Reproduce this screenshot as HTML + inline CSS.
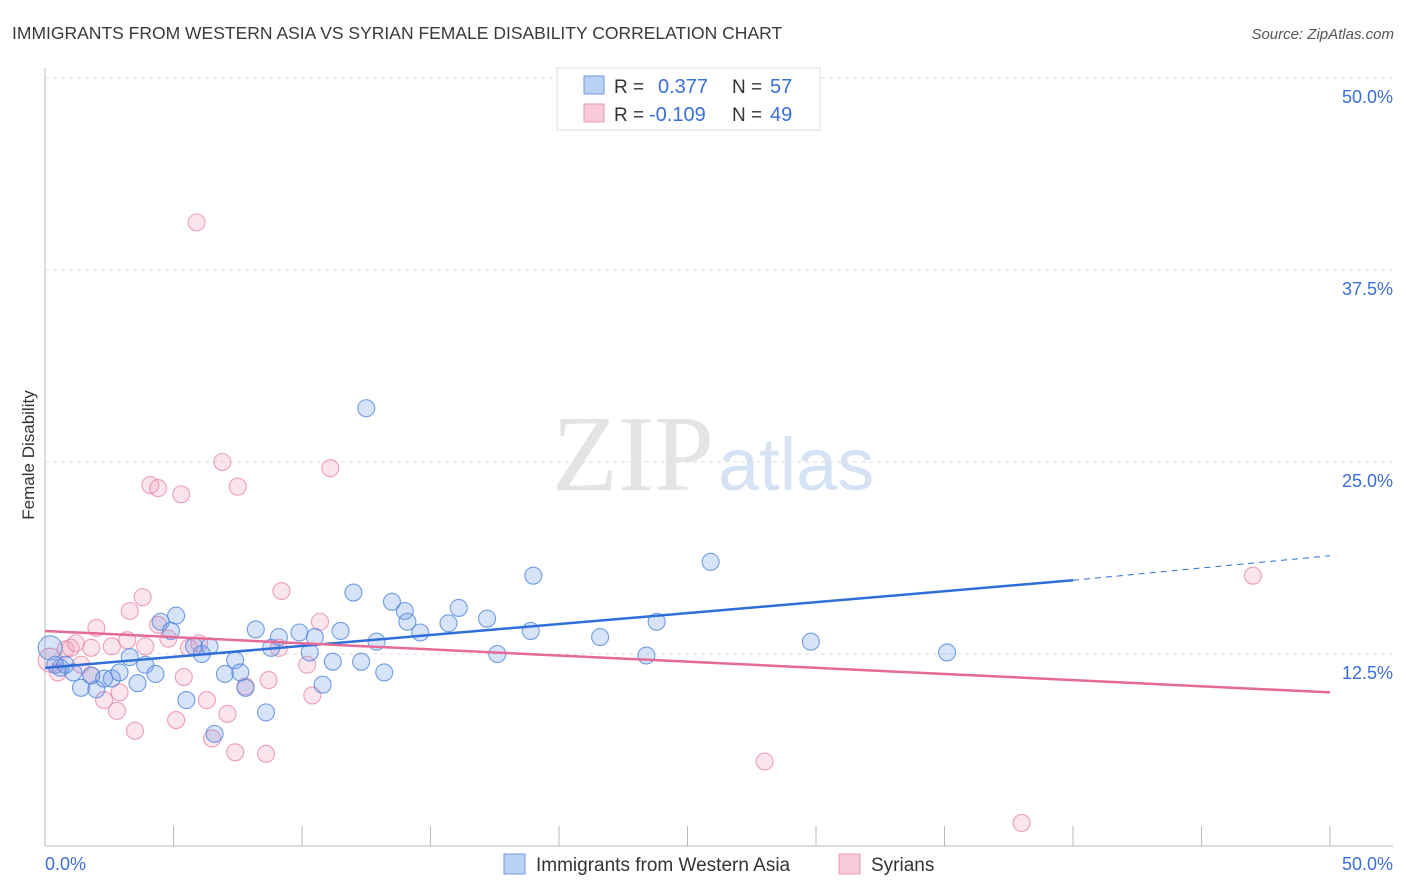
<!DOCTYPE html>
<html><head><meta charset="utf-8"><style>
body{margin:0;background:#fff;font-family:"Liberation Sans",sans-serif;}
svg{display:block}
</style></head><body>
<svg width="1406" height="892" id="c">
<text x="12" y="39" font-size="17.5" fill="#3a3a3a">IMMIGRANTS FROM WESTERN ASIA VS SYRIAN FEMALE DISABILITY CORRELATION CHART</text>
<text x="1394" y="39" font-size="15" fill="#555" font-style="italic" text-anchor="end">Source: ZipAtlas.com</text>
<text x="714" y="490" font-size="108" fill="#e4e4e4" text-anchor="end" font-family="Liberation Serif,serif">ZIP</text>
<text x="718" y="490" font-size="74" fill="#d6e3f5">atlas</text>
<g id="grid"></g>
<line x1="45" y1="68" x2="45" y2="846" stroke="#bbb"/>
<line x1="45" y1="846" x2="1393" y2="846" stroke="#bbb"/>
<g id="ticks"></g>
<text x="34" y="455" font-size="17" fill="#333" transform="rotate(-90 34 455)" text-anchor="middle">Female Disability</text>
<g id="pts"></g>
<g id="lines"></g>
<g>
<rect x="557" y="68" width="263" height="62" fill="#fff" stroke="#ddd"/>
<rect x="584" y="76" width="20" height="18" fill="#b9d1f3" stroke="#6f9ae0"/>
<rect x="584" y="104" width="20" height="18" fill="#f8c9d6" stroke="#ea9ab3"/>
<text x="614" y="93" font-size="19" fill="#333">R =</text>
<text x="658" y="93" font-size="20" fill="#3a6fd8">0.377</text>
<text x="732" y="93" font-size="19" fill="#333">N =</text>
<text x="770" y="93" font-size="20" fill="#3a6fd8">57</text>
<text x="614" y="121" font-size="19" fill="#333">R =</text>
<text x="649" y="121" font-size="20" fill="#3a6fd8">-0.109</text>
<text x="732" y="121" font-size="19" fill="#333">N =</text>
<text x="770" y="121" font-size="20" fill="#3a6fd8">49</text>
</g>
<g>
<rect x="504" y="854" width="21" height="20" fill="#b9d1f3" stroke="#6f9ae0"/>
<text x="536" y="871" font-size="19" fill="#333">Immigrants from Western Asia</text>
<rect x="839" y="854" width="21" height="20" fill="#f8c9d6" stroke="#ea9ab3"/>
<text x="871" y="871" font-size="19" fill="#333">Syrians</text>
</g>
<text x="45" y="870" font-size="18" fill="#3a6fd8">0.0%</text>
<text x="1393" y="870" font-size="18" fill="#3a6fd8" text-anchor="end">50.0%</text>
</svg>
<script>
const yTicks=[12.5,25,37.5,50];
const blueX=[0.2,0.4,0.6,0.8,1.1,1.4,1.8,2.0,2.3,2.6,2.9,3.3,3.6,3.9,4.3,4.5,4.9,5.1,5.5,5.8,6.1,6.4,6.6,7.0,7.4,7.6,7.8,8.2,8.6,8.8,9.1,9.9,10.3,10.5,10.8,11.2,11.5,12.0,12.3,12.5,12.9,13.2,13.5,14.0,14.1,14.6,15.7,16.1,17.2,17.6,18.9,19.0,21.6,23.4,23.8,25.9,29.8,35.1];
const blueY=[12.9,11.8,11.6,11.8,11.3,10.3,11.1,10.2,10.9,10.9,11.3,12.3,10.6,11.8,11.2,14.6,14.0,15.0,9.5,13.0,12.5,13.0,7.3,11.2,12.1,11.3,10.3,14.1,8.7,12.9,13.6,13.9,12.6,13.6,10.5,12.0,14.0,16.5,12.0,28.5,13.3,11.3,15.9,15.3,14.6,13.9,14.5,15.5,14.8,12.5,14.0,17.6,13.6,12.4,14.6,18.5,13.3,12.6];
const pinkX=[0.2,0.5,0.8,1.0,1.2,1.4,1.8,1.8,2.0,2.3,2.6,2.8,2.9,3.2,3.3,3.5,3.8,3.9,4.1,4.4,4.4,4.8,5.1,5.3,5.4,5.6,5.9,6.0,6.3,6.5,6.9,7.1,7.4,7.5,7.8,8.6,8.7,9.1,9.2,10.2,10.4,10.7,11.1,28.0,38.0,47.0];
const pinkY=[12.1,11.3,12.8,12.9,13.2,11.8,11.1,12.9,14.2,9.5,13.0,8.8,10.0,13.4,15.3,7.5,16.2,13.0,23.5,23.3,14.4,13.5,8.2,22.9,11.0,12.9,40.6,13.2,9.5,7.0,25.0,8.6,6.1,23.4,10.4,6.0,10.8,12.9,16.6,11.8,9.8,14.6,24.6,5.5,1.5,17.6];
const blueTrend=[[0,11.6],[40,17.3],[50,18.9]];
const pinkTrend=[[0,14.0],[50,10.0]];
const X=v=>45+v/50*1285, Y=v=>846-v/12.5*192;
const NS='http://www.w3.org/2000/svg';
function mk(tag,attrs,parent){const e=document.createElementNS(NS,tag);for(const k in attrs)e.setAttribute(k,attrs[k]);document.getElementById(parent).appendChild(e);return e;}
yTicks.forEach(t=>{
 const l=mk('line',{x1:45,x2:1393,y1:Y(t),y2:Y(t),stroke:'#ddd','stroke-dasharray':'4,4'},'grid');
 
 
 const tx=mk('text',{x:1393,y:Y(t)+25,'font-size':18,fill:'#3a6fd8','text-anchor':'end'},'grid');
 tx.textContent=t.toFixed(1)+'%';
 
 
});
for(let i=0;i<=10;i++){
 const l=mk('line',{x1:X(i*5),x2:X(i*5),y1:826,y2:846,stroke:'#bbb'},'ticks');
 
 
}
function pts(xs,ys,fill,stroke,name){xs.forEach((x,i)=>{
 const c=mk('circle',{cx:X(x),cy:Y(ys[i]),r:i==0?12:8.5,fill:fill,stroke:stroke,'stroke-width':1.1},'pts');
 
 
});}
pts(pinkX,pinkY,'rgba(242,160,185,0.28)','rgba(230,130,165,0.75)','syrians-point');
pts(blueX,blueY,'rgba(110,155,230,0.28)','rgba(80,135,220,0.8)','western-asia-point');
let b=mk('line',{x1:X(blueTrend[0][0]),y1:Y(blueTrend[0][1]),x2:X(blueTrend[1][0]),y2:Y(blueTrend[1][1]),stroke:'#2f6fd8','stroke-width':2.5},'lines');


let bd=mk('line',{x1:X(blueTrend[1][0]),y1:Y(blueTrend[1][1]),x2:X(blueTrend[2][0]),y2:Y(blueTrend[2][1]),stroke:'#2f6fd8','stroke-width':1,'stroke-dasharray':'6,5'},'lines');


let p=mk('line',{x1:X(pinkTrend[0][0]),y1:Y(pinkTrend[0][1]),x2:X(pinkTrend[1][0]),y2:Y(pinkTrend[1][1]),stroke:'#e56a95','stroke-width':2.5},'lines');


</script>
</body></html>
